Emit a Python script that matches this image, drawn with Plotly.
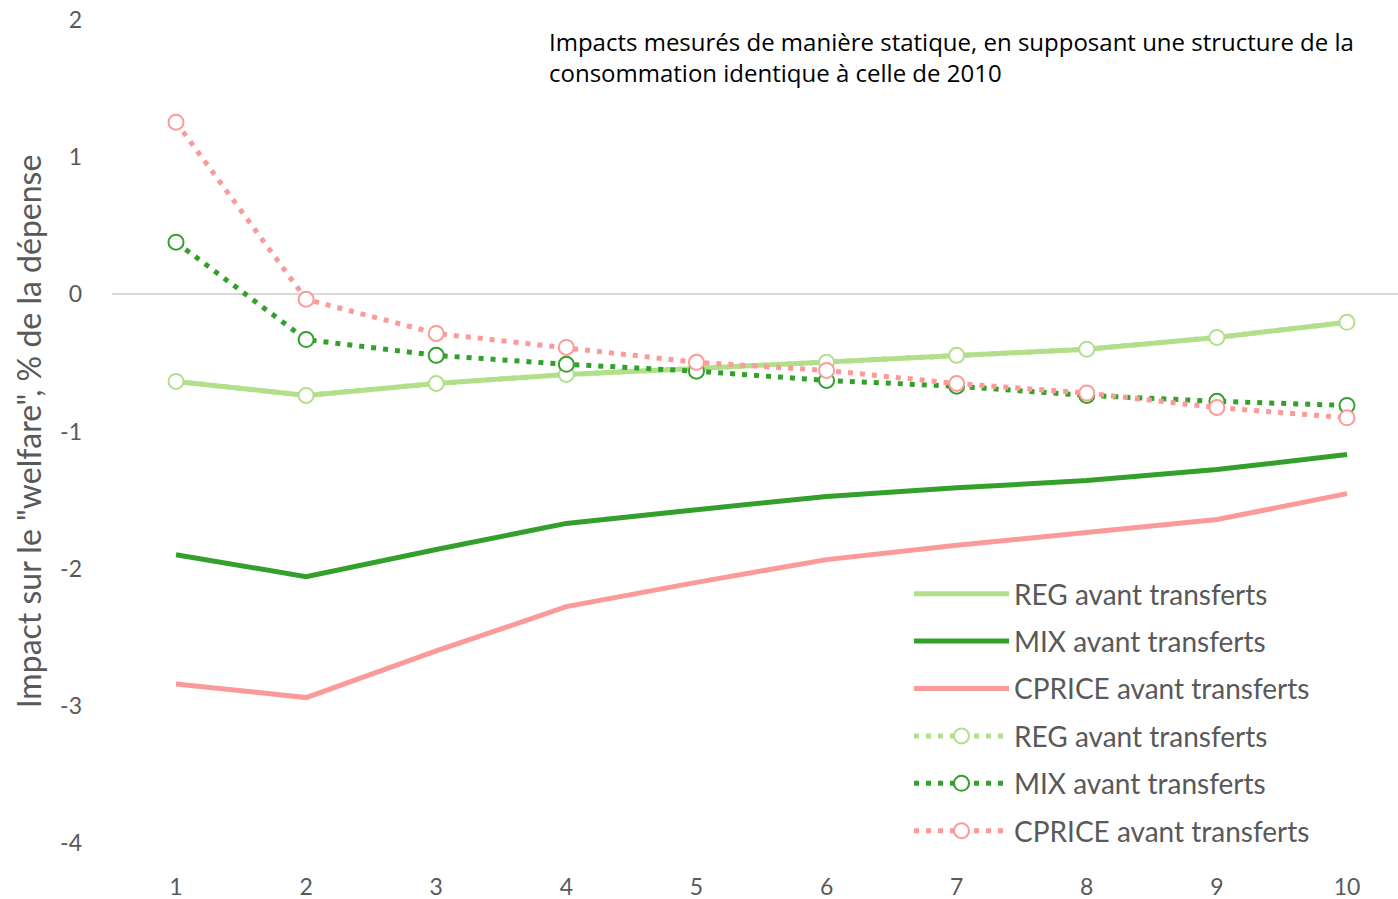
import plotly.graph_objects as go

deciles = [1, 2, 3, 4, 5, 6, 7, 8, 9, 10]
y_ticks = [2, 1, 0, -1, -2, -3, -4]
y_ticktext = ["2", "1", "0", "-1", "-2", "-3", "-4"]

reg_avant = [-0.635, -0.737, -0.65, -0.584, -0.54, -0.496, -0.445, -0.40, -0.314, -0.204]
mix_avant = [-1.898, -2.058, -1.86, -1.67, -1.57, -1.474, -1.41, -1.358, -1.277, -1.168]
cprice_avant = [-2.84, -2.94, -2.60, -2.277, -2.10, -1.934, -1.83, -1.737, -1.642, -1.453]

reg_static = [-0.635, -0.737, -0.65, -0.584, -0.54, -0.496, -0.445, -0.40, -0.314, -0.204]
mix_static = [0.38, -0.33, -0.445, -0.51, -0.56, -0.628, -0.67, -0.737, -0.78, -0.81]
cprice_static = [1.255, -0.036, -0.285, -0.387, -0.496, -0.555, -0.65, -0.72, -0.825, -0.90]

names = ["REG avant transferts", "MIX avant transferts", "CPRICE avant transferts"]
colors = ["#b2df8a", "#33a02c", "#fb9a99"]

W, H = 1398, 899
L, T, B = 112, 20, 56
PW, PH = W - L, H - T - B

fig = go.Figure()
i = 0
for name, col, vals in zip(names, colors, [reg_avant, mix_avant, cprice_avant]):
    fig.add_trace(go.Scatter(x=deciles, y=vals, name=name, mode="lines",
                             legendgroup="g%d" % i,
                             line=dict(color=col, width=5)))
    i += 1
for name, col, vals in zip(names, colors, [reg_static, mix_static, cprice_static]):
    fig.add_trace(go.Scatter(x=deciles, y=vals, name=name, mode="lines+markers",
                             legendgroup="g%d" % i,
                             line=dict(color=col, width=5, dash="5px,7px"),
                             marker=dict(symbol="circle", size=15, color="white",
                                         line=dict(color=col, width=2))))
    i += 1

fig.update_layout(
    width=W, height=H,
    margin=dict(l=L, r=0, t=T, b=B),
    plot_bgcolor="white", paper_bgcolor="white",
    font=dict(family="Lato, Open Sans, sans-serif", color="#595959"),
    showlegend=True,
    legend=dict(x=(909 - L) / PW, y=(H - B - 569) / PH, xanchor="left", yanchor="top",
                font=dict(size=28, color="#595959"),
                itemwidth=95, tracegroupgap=8, bgcolor="rgba(0,0,0,0)"),
    xaxis=dict(range=[0.508, 10.392], tickmode="array", tickvals=deciles,
               ticktext=[str(d) for d in deciles], showgrid=False, zeroline=False,
               showline=False, ticks="", tickfont=dict(size=23, color="#595959"),
               ticklabelstandoff=28, automargin=False),
    yaxis=dict(range=[-4, 2], tickmode="array", tickvals=y_ticks, ticktext=y_ticktext,
               showgrid=False, zeroline=True,
               zerolinecolor="#d9d9d9", zerolinewidth=2, showline=False, ticks="",
               tickfont=dict(size=23, color="#595959"), ticklabelstandoff=29,
               automargin=False,
               title=dict(text="Impact sur le \"welfare\", % de la dépense",
                          font=dict(size=32, color="#595959"), standoff=8)),
    annotations=[dict(
        xref="paper", yref="paper", x=(547 - L) / PW, y=(H - B - 23) / PH,
        xanchor="left", yanchor="top", align="left", showarrow=False,
        text="Impacts mesurés de manière statique, en supposant une structure de la<br>consommation identique à celle de 2010",
        font=dict(size=24, color="#000000", family="Open Sans, sans-serif"))]
)

fig.write_html("out.html", config={"displayModeBar": False},
               post_script="document.body.style.margin='0px';")
